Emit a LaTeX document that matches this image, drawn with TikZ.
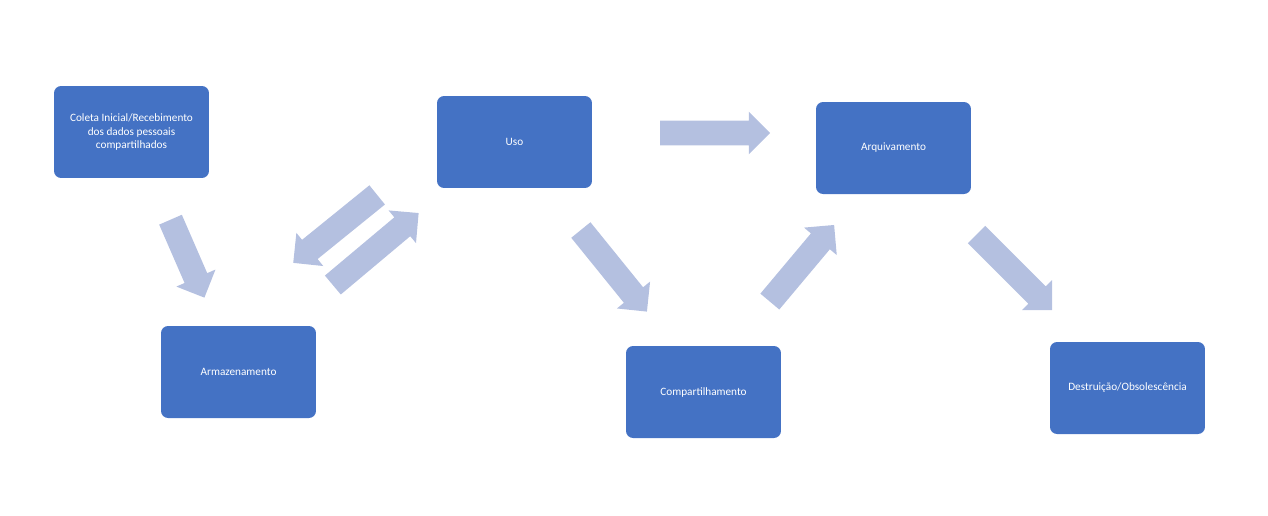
\documentclass[tikz,border=0pt]{standalone}
\usepackage{fontspec}
\setmainfont{Carlito}
\usetikzlibrary{shapes.arrows}
\definecolor{boxc}{HTML}{4472C4}
\definecolor{arrc}{HTML}{B4C0E0}
\begin{document}
\begin{tikzpicture}[x=0.02cm,y=-0.02cm,
 box/.style={fill=boxc,rounded corners=4pt,minimum width=3.1cm,minimum height=1.84cm,text=white,align=center,font=\fontsize{6.4}{7.8}\selectfont,inner sep=2pt},
 fat/.style={single arrow,fill=arrc,draw=none,inner sep=0.24cm,single arrow head extend=0.18cm,minimum height=#1*0.02cm,anchor=center}]
\useasboundingbox (0,0) rectangle (1268,515);
\node[box] (c) at (131.5,132) {Coleta Inicial/Recebimento\\dos dados pessoais\\compartilhados};
\node[box] (a) at (238.5,372) {Armazenamento};
\node[box] (u) at (514.5,142) {Uso};
\node[box] (s) at (703.5,392) {Compartilhamento};
\node[box] (q) at (893.5,148) {Arquivamento};
\node[box] (d) at (1127.5,388) {Destruição/Obsolescência};
\node[fat=85,rotate=-66.5] (a1) at (185,253) {};
\node[fat=108,rotate=-141] (a2) at (340,225) {};
\node[fat=112,rotate=40] (a3) at (371,253) {};
\node[fat=110,rotate=0] (a4) at (709,133) {};
\node[fat=105,rotate=-51] (a5) at (610,266) {};
\node[fat=100,rotate=50] (a6) at (798,268) {};
\node[fat=107,rotate=-45] (a7) at (1010,268) {};
\end{tikzpicture}
\end{document}
